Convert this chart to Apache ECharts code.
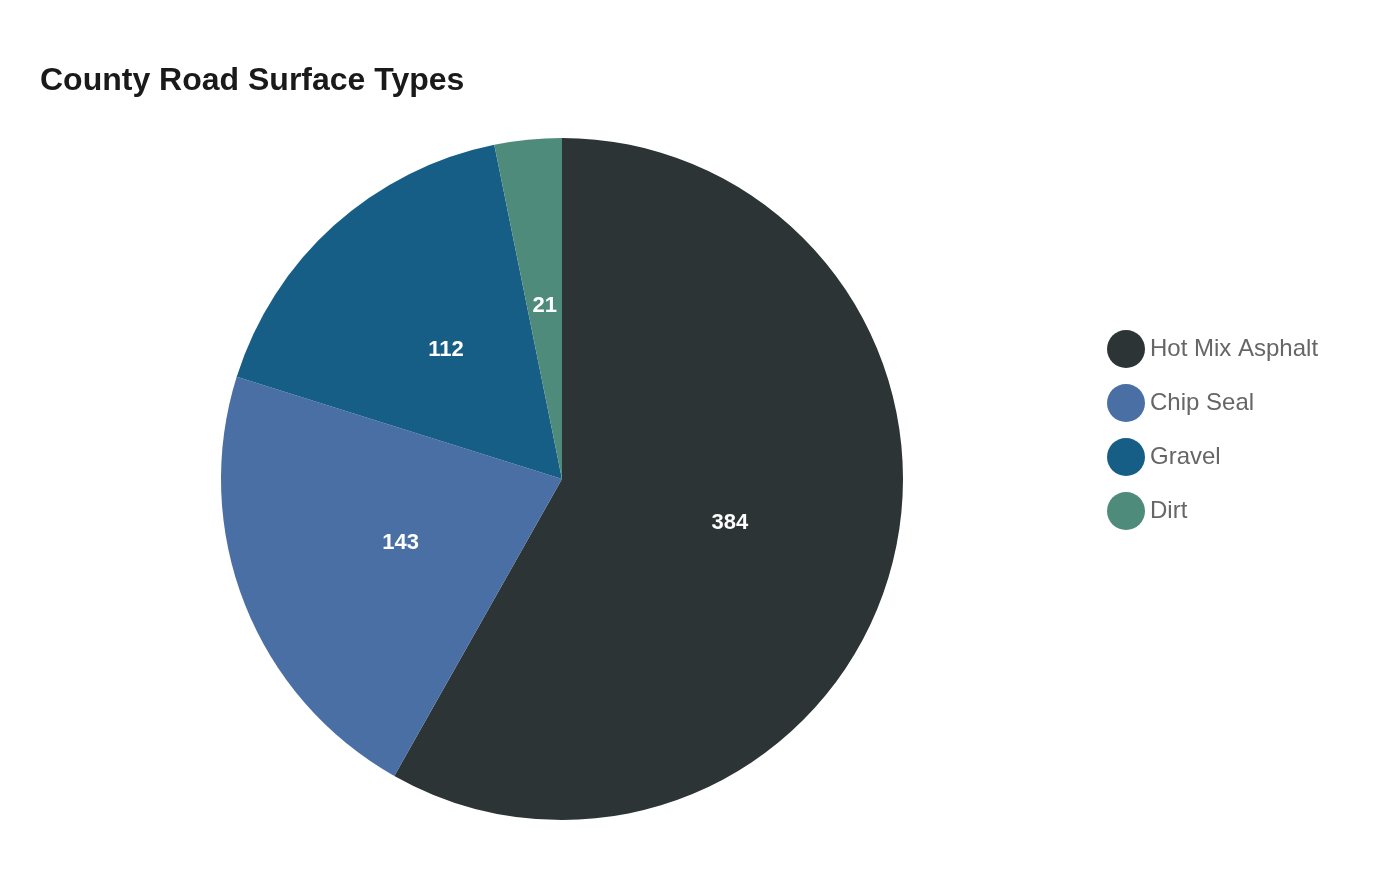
<!DOCTYPE html>
<html>
<head>
<meta charset="utf-8">
<script src="https://cdn.jsdelivr.net/npm/echarts@6/dist/echarts.min.js"></script>
<style>
    html, body { margin: 0; padding: 0; background: #ffffff; }
    #chart { width: 1400px; height: 880px; }
</style>
</head>
<body>
<div id="chart"></div>
<script>
const surfaceTypes = ['Hot Mix Asphalt', 'Chip Seal', 'Gravel', 'Dirt'];
const roadCounts = [384, 143, 112, 21];
const sliceColors = ['#2d3436', '#4a6fa5', '#175e87', '#4e8b7a'];

const chart = echarts.init(document.getElementById('chart'));

chart.setOption({
    backgroundColor: '#ffffff',
    title: {
        text: 'County Road Surface Types',
        left: 40,
        top: 65,
        padding: 0,
        textStyle: {
            fontFamily: 'Liberation Sans, Arial, sans-serif',
            fontSize: 32,
            fontWeight: 'bold',
            color: '#1a1a1a',
        },
    },
    legend: {
        orient: 'vertical',
        left: 1102,
        top: 325,
        icon: 'circle',
        itemWidth: 38,
        itemHeight: 38,
        itemGap: 16,
        data: surfaceTypes,
        textStyle: {
            fontFamily: 'Liberation Sans, Arial, sans-serif',
            fontSize: 24,
            color: '#666666',
        },
    },
    series: [
        {
            name: 'Surface',
            type: 'pie',
            center: [562, 479],
            radius: 341,
            startAngle: 90,
            clockwise: true,
            label: {
                show: true,
                position: 'inside',
                formatter: '{c}',
                fontFamily: 'Liberation Sans, Arial, sans-serif',
                fontSize: 22,
                fontWeight: 'bold',
                color: '#ffffff',
            },
            labelLine: { show: false },
            itemStyle: { borderWidth: 0 },
            data: surfaceTypes.map((name, i) => ({
                name,
                value: roadCounts[i],
                itemStyle: { color: sliceColors[i] },
            })),
        },
    ],
});
</script>
</body>
</html>
